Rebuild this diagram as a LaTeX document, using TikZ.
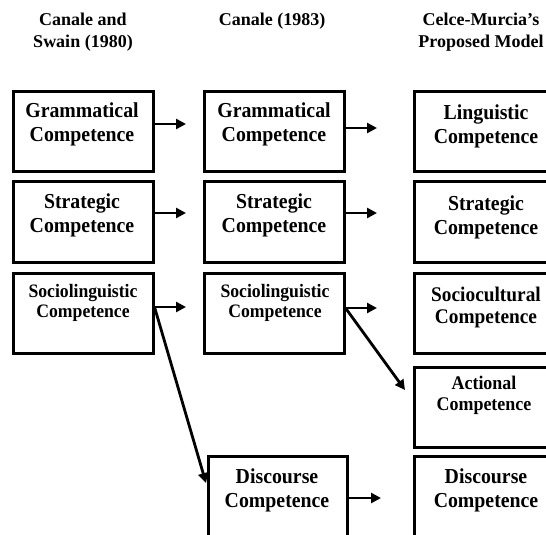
\documentclass[tikz,border=0pt]{standalone}
\usepackage{fontspec}
\setmainfont{Liberation Serif}
\newfontfamily\condserif{Liberation Serif}[FakeStretch=0.93]
\usetikzlibrary{arrows.meta}
\begin{document}
\begin{tikzpicture}[x=1pt,y=-1pt,
  box/.style={draw=black, line width=3pt, minimum width=#1, inner sep=0pt, fill=white},
  box/.default=140,
  hdr/.style={align=center, anchor=base, font=\fontsize{18}{22}\selectfont\bfseries},
  lbl/.style={align=center, anchor=base, font=\condserif\fontsize{21.3}{23.5}\selectfont\bfseries},
  lbls/.style={align=center, anchor=base, font=\condserif\fontsize{19}{20}\selectfont\bfseries},
  arr/.style={line width=2.8pt, -{Triangle[length=10pt,width=10pt]}}]
\useasboundingbox (0,0) rectangle (546,535);
\begin{scope}
\clip (0,0) rectangle (546,535);
% headers
\node[hdr] (h1) at (83,48) {Canale and\\Swain (1980)};
\node[hdr] (h2) at (272,26) {Canale (1983)};
\node[hdr] (h3) at (481,48) {Celce-Murcia’s\\Proposed Model};
% column 1
\node[box, minimum height=80] (g1) at (83,131) {};
\node[box, minimum height=81] (t1) at (83,221.5) {};
\node[box, minimum height=80] (s1) at (83,313) {};
% column 2
\node[box, minimum height=80] (g2) at (274,131) {};
\node[box, minimum height=81] (t2) at (274,221.5) {};
\node[box, minimum height=80] (s2) at (274,313) {};
\node[box=139, minimum height=90] (d2) at (277.5,501) {};
% column 3
\node[box=144, minimum height=80] (g3) at (486,131) {};
\node[box=144, minimum height=81] (t3) at (486,221.5) {};
\node[box=144, minimum height=80] (s3) at (486,313) {};
\node[box=144, minimum height=80] (a3) at (486,407) {};
\node[box=144, minimum height=90] (d3) at (486,501) {};
% labels
\node[lbl] (g1t) at (82,141) {Grammatical\\Competence};
\node[lbl] (t1t) at (82,232) {Strategic\\Competence};
\node[lbls] (s1t) at (83,317) {Sociolinguistic\\Competence};
\node[lbl] (g2t) at (274,141) {Grammatical\\Competence};
\node[lbl] (t2t) at (274,232) {Strategic\\Competence};
\node[lbls] (s2t) at (275,317) {Sociolinguistic\\Competence};
\node[lbl] (d2t) at (277,507) {Discourse\\Competence};
\node[lbl] (g3t) at (486,143) {Linguistic\\Competence};
\node[lbl] (t3t) at (486,234) {Strategic\\Competence};
\node[lbl, font=\condserif\fontsize{20.8}{21.5}\selectfont\bfseries] (s3t) at (486,323) {Sociocultural\\Competence};
\node[lbls, font=\condserif\fontsize{19.3}{21}\selectfont\bfseries] (a3t) at (484,410) {Actional\\Competence};
\node[lbl] (d3t) at (486,507) {Discourse\\Competence};
% arrow end points
\coordinate (e1) at (186,124);
\coordinate (e2) at (186,213);
\coordinate (e3) at (186,307);
\coordinate (f1) at (377,128);
\coordinate (f2) at (377,213);
\coordinate (f3) at (377,308);
\coordinate (f4) at (381,498);
\coordinate (x1) at (206,483);
\coordinate (x2) at (405,390);
% arrows
\draw[arr] (g1.east |- e1) -- (e1);
\draw[arr] (t1.east |- e2) -- (e2);
\draw[arr] (s1.east |- e3) -- (e3);
\draw[arr] (g2.east |- f1) -- (f1);
\draw[arr] (t2.east |- f2) -- (f2);
\draw[arr] (s2.east |- f3) -- (f3);
\draw[arr] (d2.east |- f4) -- (f4);
\draw[arr] (s1.east |- e3) -- (x1);
\draw[arr] (s2.east |- f3) -- (x2);
\end{scope}
\end{tikzpicture}
\end{document}
